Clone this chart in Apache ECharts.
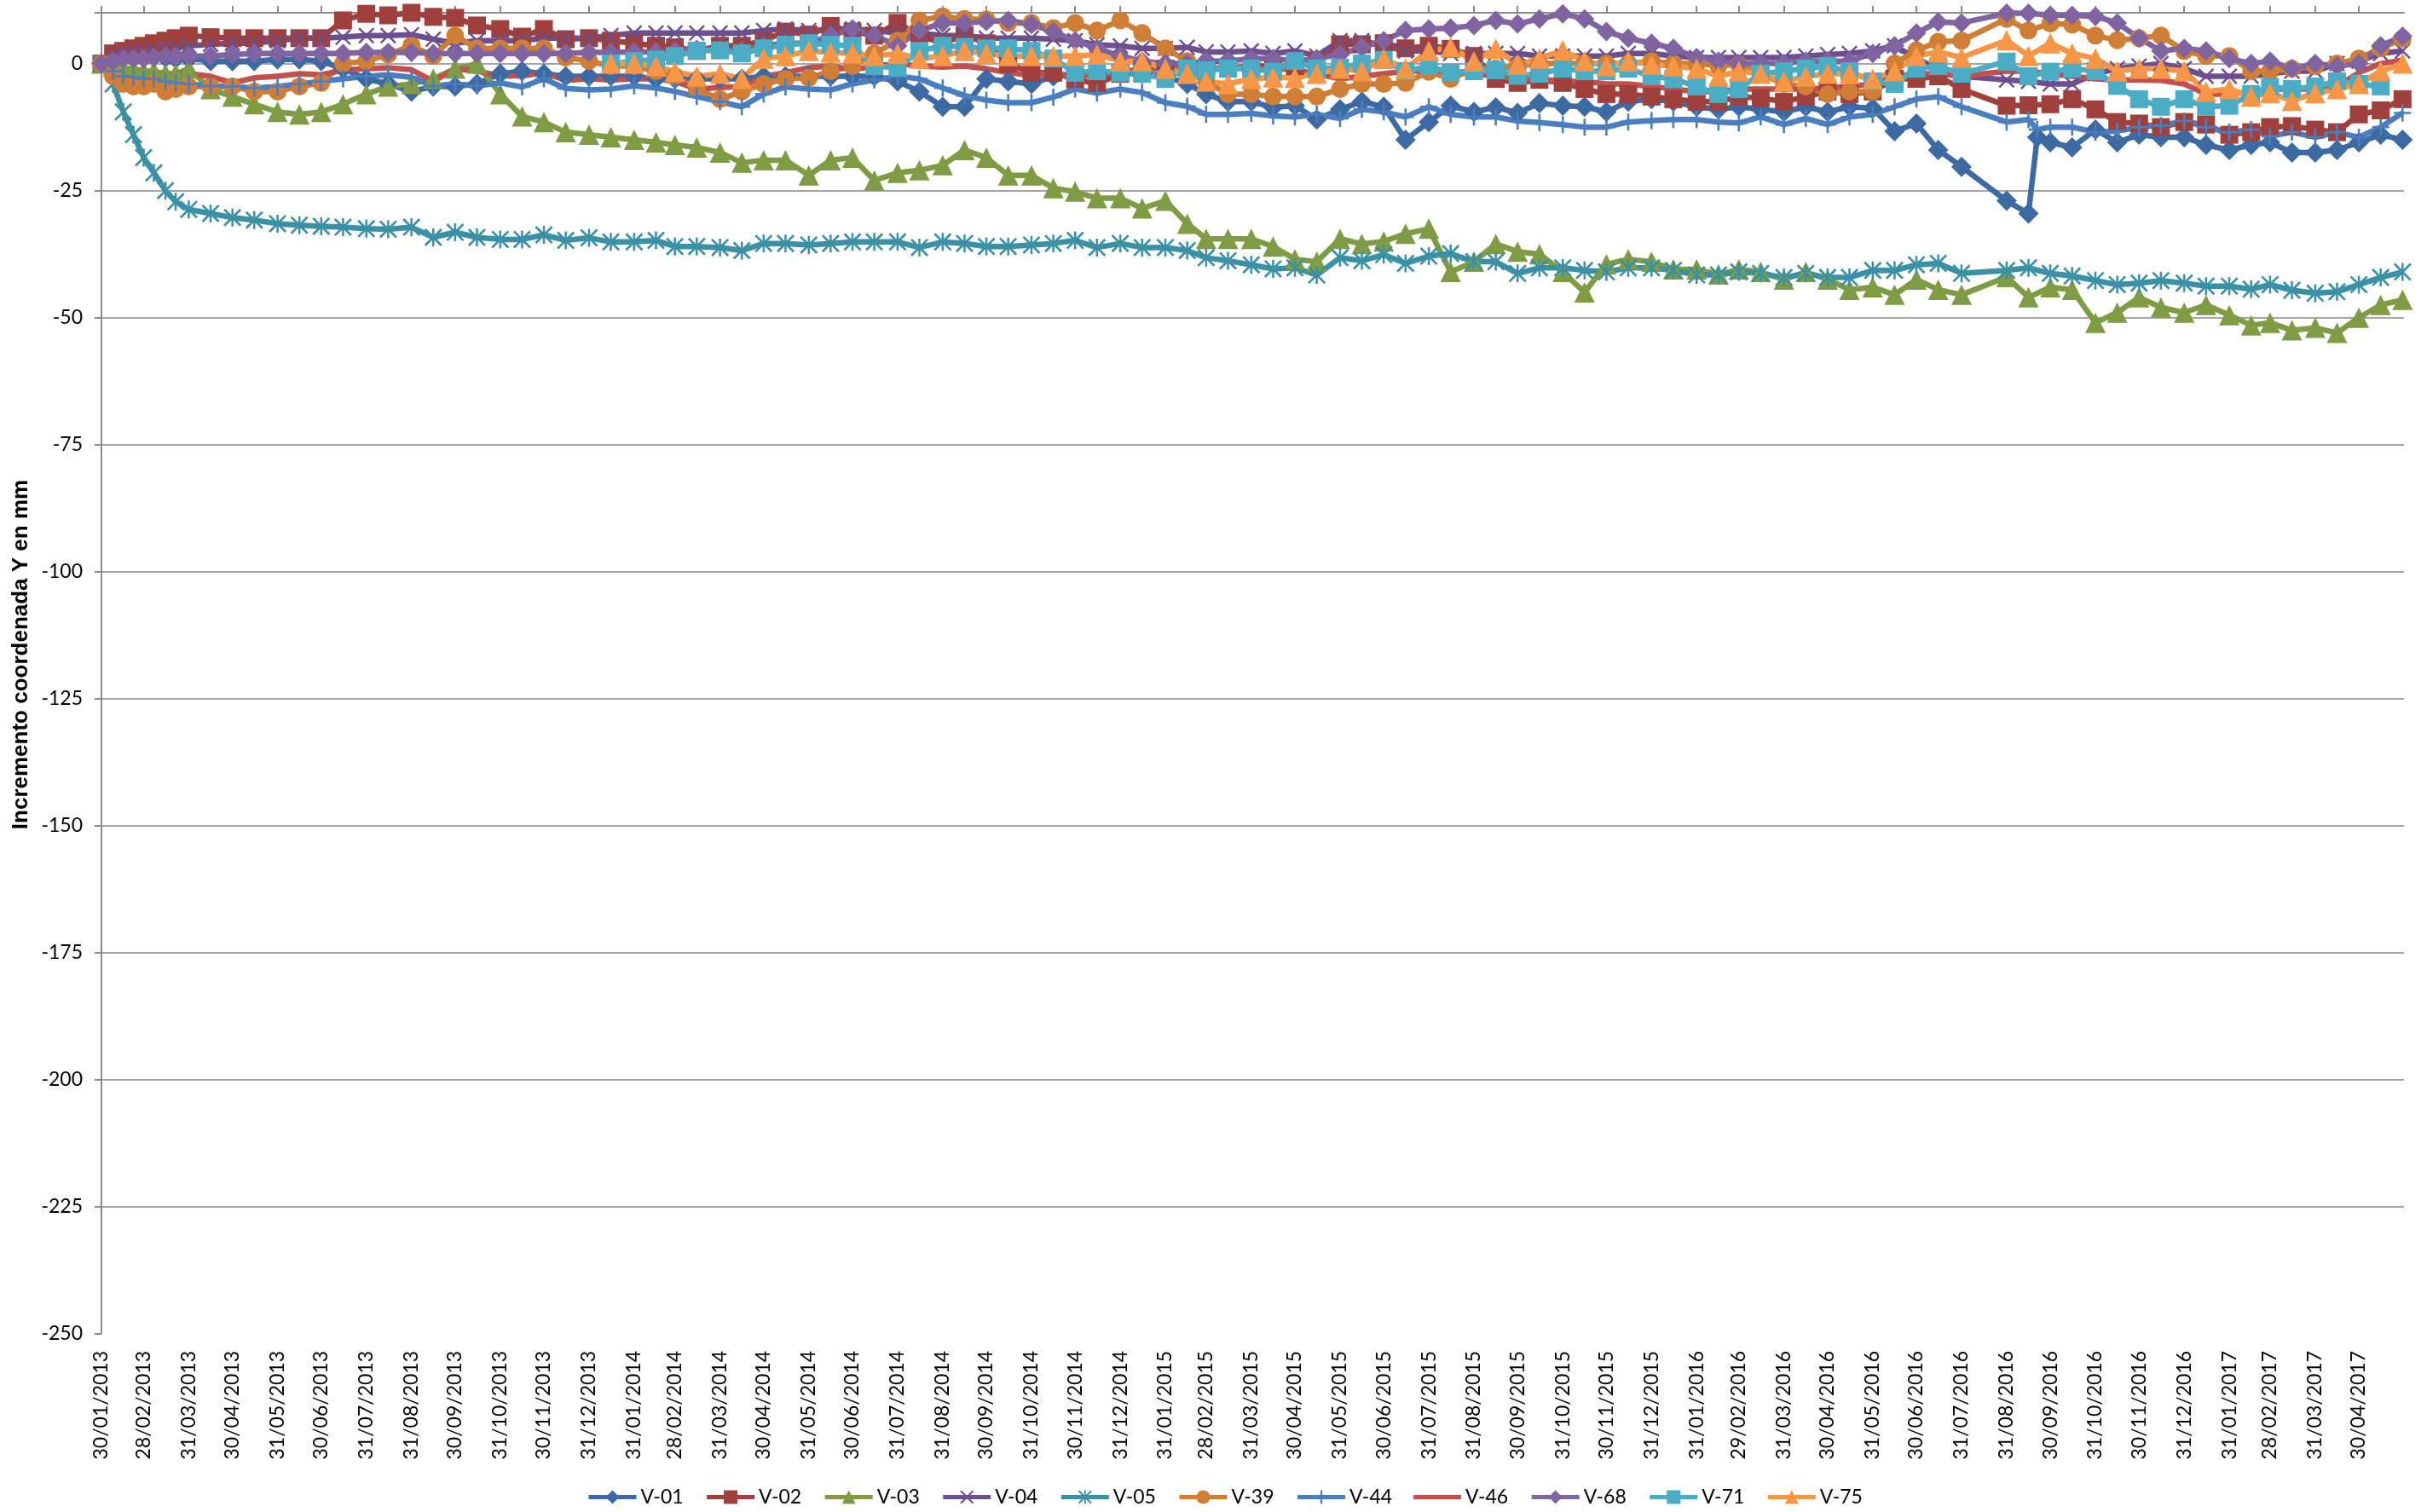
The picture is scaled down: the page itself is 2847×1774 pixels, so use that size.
<!DOCTYPE html>
<html><head><meta charset="utf-8">
<script src="https://cdn.jsdelivr.net/npm/echarts@6/dist/echarts.min.js"></script>
<style>html,body{margin:0;padding:0;background:#fff}#c{width:2847px;height:1774px}</style>
</head><body><div id="c"></div>
<script>
const dates = [
'2013-01-30','2013-02-07','2013-02-14','2013-02-21','2013-02-28','2013-03-07','2013-03-15','2013-03-22','2013-03-31',
'2013-04-15','2013-04-30','2013-05-15','2013-05-31','2013-06-15','2013-06-30','2013-07-15','2013-07-31','2013-08-15','2013-08-31','2013-09-15','2013-09-30','2013-10-15','2013-10-31','2013-11-15','2013-11-30','2013-12-15','2013-12-31',
'2014-01-15','2014-01-31','2014-02-15','2014-02-28','2014-03-15','2014-03-31','2014-04-15','2014-04-30','2014-05-15','2014-05-31','2014-06-15','2014-06-30','2014-07-15','2014-07-31','2014-08-15','2014-08-31','2014-09-15','2014-09-30','2014-10-15','2014-10-31','2014-11-15','2014-11-30','2014-12-15','2014-12-31',
'2015-01-15','2015-01-31','2015-02-15','2015-02-28','2015-03-15','2015-03-31','2015-04-15','2015-04-30','2015-05-15','2015-05-31','2015-06-15','2015-06-30','2015-07-15','2015-07-31','2015-08-15','2015-08-31','2015-09-15','2015-09-30','2015-10-15','2015-10-31','2015-11-15','2015-11-30','2015-12-15','2015-12-31',
'2016-01-15','2016-01-31','2016-02-15','2016-02-29','2016-03-15','2016-03-31','2016-04-15','2016-04-30','2016-05-15','2016-05-31','2016-06-15','2016-06-30','2016-07-15','2016-07-31','2016-08-15','2016-08-31','2016-09-15','2016-09-21','2016-09-30','2016-10-15','2016-10-31','2016-11-15','2016-11-30','2016-12-15','2016-12-31',
'2017-01-15','2017-01-31','2017-02-15','2017-02-28','2017-03-15','2017-03-31','2017-04-15','2017-04-30','2017-05-15','2017-05-30'];

const tickLabels = ['30/01/2013','28/02/2013','31/03/2013','30/04/2013','31/05/2013','30/06/2013','31/07/2013','31/08/2013','30/09/2013','31/10/2013','30/11/2013','31/12/2013',
'31/01/2014','28/02/2014','31/03/2014','30/04/2014','31/05/2014','30/06/2014','31/07/2014','31/08/2014','30/09/2014','31/10/2014','30/11/2014','31/12/2014',
'31/01/2015','28/02/2015','31/03/2015','30/04/2015','31/05/2015','30/06/2015','31/07/2015','31/08/2015','30/09/2015','31/10/2015','30/11/2015','31/12/2015',
'31/01/2016','29/02/2016','31/03/2016','30/04/2016','31/05/2016','30/06/2016','31/07/2016','31/08/2016','30/09/2016','31/10/2016','30/11/2016','31/12/2016',
'31/01/2017','28/02/2017','31/03/2017','30/04/2017'];

const seriesNames = ['V-01','V-02','V-03','V-04','V-05','V-39','V-44','V-46','V-68','V-71','V-75'];

const v01 = [0,1,1.5,1.5,1.5,1.5,1.2,1,1,
0.5,0.5,0.5,0.8,0.8,0.5,-1,-3,-4,-5.5,-4.5,-4.5,-4,-2,-1.5,-2,-2.5,-2.5,
-2.5,-2.5,-3,-3,-3,-3,-3,-2.5,-2.5,-2.5,-2.5,-2.5,-2.5,-3.5,-5.5,-8.5,-8.5,-3,-3.5,-4,-2.5,-2,-2,-2,
-2,-2.5,-4,-6,-7.5,-7.5,-8.6,-8.3,-11,-9,-7.5,-8.5,-15,-11.5,-8.3,-9.5,-8.6,-9.7,-7.8,-8.3,-8.5,-9.5,-7.5,-7,
-7.5,-8.5,-9,-8.5,-9,-9.5,-8.5,-9.5,-8.5,-8.8,-13.3,-11.8,-17,-20.3,null,-27,-29.5,-14.5,-15.5,-16.5,-13,-15.5,-14,-14.5,-14.5,
-16,-17,-16,-15.5,-17.5,-17.5,-17,-15.5,-14,-15];

const v02 = [0,2,2.5,3,3.5,4,4.5,5,5.5,
5.2,5,5,5,5,5,8.5,9.8,9.5,10,9.2,9,7.5,6.8,5.3,6.8,4.8,5,
4.5,4,3.5,3.2,2.5,3.5,3.5,4.5,6.3,5.7,7.4,6.3,5.5,8,5.5,4,5.6,4,0,-1.8,-1.8,-3,-4,-2,
-1,-1,-1,-1,-1,-0.5,-0.5,-0.5,0.5,3.8,3.8,4,3,3.5,2.9,1.5,-3,-3.8,-3.2,-3.8,-5,-6,-6,-6.5,
-7,-7.5,-7.5,-6.5,-6.8,-7.5,-6.5,-5.5,-6,-5.5,-3,-3,-2.5,-5,null,-8.3,-8.2,null,-8,-7,-9,-11.5,-11.8,-12.5,-11.5,
-12,-14,-13.5,-12.5,-12.3,-13,-13.5,-10,-9.2,-7];

const v03 = [0,-0.5,-1,-1,-1.5,-1.5,-2,-2,-1,
-5,-6.5,-8,-9.5,-10,-9.5,-8,-6,-4.5,-4,-3,-1,0,-6,-10.4,-11.5,-13.5,-14,
-14.5,-15,-15.5,-16,-16.5,-17.5,-19.5,-19,-19,-22,-19,-18.5,-23,-21.5,-21,-20,-17,-18.5,-22,-22,-24.5,-25.2,-26.5,-26.5,
-28.5,-27,-31.5,-34.5,-34.5,-34.5,-36,-38.5,-39,-34.5,-35.5,-35,-33.5,-32.5,-41,-39,-35.5,-37,-37.5,-41,-45,-39.5,-38.5,-39,
-40.5,-40.5,-41.5,-40.5,-41,-42.5,-41,-42.5,-44.5,-44,-45.5,-42.5,-44.5,-45.5,null,-42,-46,null,-44,-44.5,-51,-49,-46,-48,-49,
-47.5,-49.5,-51.5,-51,-52.5,-52,-53,-50,-47.5,-46.5];

const v04 = [0,1.5,2,2,2.3,2.5,3,3,3.5,
3.8,4,4,4.5,5,5,5.2,5.5,5.5,5.7,4.8,4,4.5,4.5,4.5,5,5,5,
5.5,6,6,6,6,6,6,6.5,6.8,6.5,6.5,6.8,6.5,6,6,5.5,5.5,5,5,5,4.8,4.5,3.7,3.5,
3,3,3.2,2.3,2.3,2.5,2,2.5,1.5,4.5,4.5,3.5,2.5,2.5,2,2,2,2,1.5,1.5,1.5,1.5,2,2,
1.5,1.2,1.2,1.2,1.2,1.2,1.5,1.8,2,2.5,3.5,1,-1,-2.5,null,-3.2,-3.5,null,-4,-4,-2,-1,-0.5,0,-1,
-2.5,-2.5,-2.5,-2,-1.5,-1.5,0,0.5,2,2.5];

const v05 = [0,-4,-9.5,-14,-18.5,-21.5,-25,-27.2,-28.7,
-29.5,-30.3,-30.8,-31.5,-31.8,-32,-32.2,-32.5,-32.6,-32.2,-34.2,-33.2,-34.2,-34.6,-34.6,-33.7,-34.8,-34.3,
-35.1,-35.1,-34.8,-36,-36,-36.2,-36.8,-35.4,-35.4,-35.7,-35.4,-35.1,-35.1,-35.1,-36.2,-35.1,-35.4,-36,-36,-35.7,-35.4,-34.8,-36.2,-35.4,
-36.2,-36.2,-36.8,-38.2,-38.8,-39.6,-40.4,-40.2,-41.6,-38.2,-38.8,-37.6,-39.3,-37.9,-37.4,-39,-39,-41.3,-40.2,-40.2,-40.7,-41,-40.2,-40.2,
-40.7,-41.6,-41.6,-41,-41.3,-42.1,-41.3,-42.1,-42.1,-40.7,-40.7,-39.6,-39.3,-41.3,null,-40.7,-40.2,null,-41.3,-41.8,-42.7,-43.5,-43.2,-42.7,-43.2,
-43.8,-43.8,-44.4,-43.5,-44.6,-45.2,-44.9,-43.5,-42.1,-41];

const v39 = [0,-2.5,-4,-4.5,-4.5,-4,-5.5,-5,-4.5,
-4.5,-4.5,-5.5,-5.5,-4.5,-3.8,0,0.5,1.8,3.5,1.5,5.5,3,3,3,3,1.2,0.5,
-0.5,-0.5,-1.5,-2.5,-5,-7,-5.5,-4,-3,-2.8,-1.5,-0.5,2,4.5,8.5,9.3,8.8,8.7,8,8,7,8,6.5,8.5,
6,3,0.5,-3.5,-6,-6,-6.5,-6.5,-6.5,-5,-4,-4,-3.8,-1.6,-3,-1,-1,-0.5,0,0,0,0,0,0.5,
0,0,-0.4,-0.2,-2,-4,-4.5,-6,-5.5,-5.5,0,2.6,4.3,4.5,null,8.8,6.5,null,7.9,7.7,5.5,4.6,5,5.5,2.5,
1.5,1.5,-1.5,-1.5,-1,-0.5,0,1,3,4.9];

const v44 = [0,-1.5,-2.5,-2.7,-3,-3,-3.5,-3.8,-4,
-4.4,-4.5,-4.8,-4.5,-4,-3.5,-3,-2.5,-2.2,-2.7,-4.4,-4,-4.4,-3.8,-4.6,-3,-4.9,-5.2,
-5,-4.4,-4.8,-5.5,-6.5,-7.5,-8.5,-6,-4.6,-5,-5.2,-4,-3.2,-2.5,-3,-4.8,-6.3,-7.2,-7.7,-7.7,-6.6,-5,-5.8,-5,
-5.7,-7.7,-8.4,-10,-10,-9.8,-10.3,-10.5,-10,-10.8,-9,-9.5,-10.5,-8.5,-10,-10.5,-10.5,-11.3,-11.6,-12,-12.5,-12.5,-11.5,-11.2,
-11,-11,-11.5,-11.7,-10.5,-12,-10.8,-12,-10.5,-10,-8.5,-7,-6.5,-8.5,null,-11.5,-11,-13,-12.5,-12.5,-13.5,-13.3,-12.5,-12.2,-11.3,
-12.5,-13.5,-13,-14.3,-13.5,-14.5,-13.5,-14.5,-12.5,-9.7];

const v46 = [0,-1.5,-2,-2.2,-2.4,-2.4,-2.2,-2,-2,
-2.5,-3.8,-2.8,-2.5,-2,-2.2,-1.3,-1,-0.8,-1.2,-3.5,-1,-1.5,-2.4,-2.4,-1.8,-3.3,-3,
-3.2,-3,-3,-3.5,-5,-4.7,-4.5,-2.5,-1.8,-0.8,-0.5,-1.2,-0.5,0,-0.5,-0.7,-0.5,-1,-1.8,-2.3,-2,-2.4,-2.2,-1.5,
-1.2,-1,-1,-1,-0.8,-0.8,-1,-1.2,-2,-3,-2.5,-2,-1.5,-1.5,-1.5,-2,-2.5,-3,-3,-3.5,-3.5,-4,-4,-4.5,
-5,-5.5,-5.5,-5,-5,-5,-5,-4.8,-4.5,-4,-2.5,-2,-2,-2.5,null,-1.5,-1.5,null,-2,-2.5,-3,-3.2,-3.2,-3.3,-4,
-6,-6,-5.5,-5,-5,-5,-4.5,-1.8,0,0.7];

const v68 = [0,0.5,1,1,1,1.2,1.5,1.5,1.5,
1.5,1.8,2,2,2,2,2,2.2,2.2,2.2,2,2,2,2,2,2,2,2.2,
2.2,2.3,2.3,2.5,2.8,2.8,2.5,3.5,4,4,5.5,6.8,5.5,3.5,6.5,8,8,8.3,8.5,7.7,6.3,4.5,3,1.5,
0.5,0,0,0.5,0.5,1,1,0.5,1,1.8,3.2,4.5,6.5,6.8,7,7.5,8.5,7.8,8.8,9.8,8.8,6.3,5,4,
3,1.2,0.5,0,0,0,0.5,0.5,0.5,2,3.5,6,8.2,8,null,9.9,9.9,null,9.5,9.5,9.3,8,5,2.5,3,
2.5,1,0,0.5,-1,0,-0.5,0,3.5,5.4];

const v71 = [null,null,null,null,null,null,null,null,null,
null,null,null,null,null,null,null,null,null,null,null,null,null,null,null,null,null,null,
0,0.5,0.8,1.5,2.5,2.6,2,3,3.7,4,3.7,3.5,-0.5,-0.8,2.5,3.5,3.3,3,3,2.5,1,-1.8,-1.5,-1.8,
-2,-3,-1,-1.3,-1,-1,-1.6,0.5,-1,-0.8,0,0.7,-1.5,-0.5,-1.8,-1.5,-1.3,-2.4,-2,-1,-1.5,-1.5,-1,-2.5,
-3,-4.5,-6,-5,-2,-1.5,-1,-0.5,-1.5,-3.5,-4,-1,-0.5,-2,null,0.4,-2.5,null,-1.6,-1,-1.5,-4.4,-7,-8.5,-7,
-8.5,-8.3,-6,-4.6,-5,-4.5,-3.5,-4,-4.5,null];

const v75 = [null,null,null,null,null,null,null,null,null,
null,null,null,null,null,null,null,null,null,null,null,null,null,null,null,null,null,null,
0,0,-0.5,-1.6,-2.5,-2,-3,1,1.5,2.5,2.2,2,1.5,2,1,1.5,2.5,2,1.5,1.5,1.5,1.5,1.8,0.5,
0.5,-1,-2,-3.5,-4,-3,-2.7,-2.8,-2,-1,-1.5,1,-1,2.5,3.2,0.5,2.9,-0.2,1,2.6,0.5,-0.5,0.5,-0.2,
-0.5,-1,-2.5,-1.5,-2,-3.5,-2.5,-2,-2,-3,-1.5,1.5,2.3,1.2,null,4.6,1.5,null,4,2,1,-1.5,-1,-1,-1.5,
-5.5,-5,-6.5,-5.8,-7.3,-5.8,-5,-4,-1.5,0];

const values = [v01,v02,v03,v04,v05,v39,v44,v46,v68,v71,v75];
const colors = ['#3D6AA3','#A0403D','#7F9B43','#6B4F8F','#3A91A6','#D07D35','#4A7EC1','#C4504D','#8064A2','#4BACC6','#F79646'];

const PLUS = 'path://M4.35,0L5.65,0L5.65,4.35L10,4.35L10,5.65L5.65,5.65L5.65,10L4.35,10L4.35,5.65L0,5.65L0,4.35L4.35,4.35Z';
const XMARK = 'path://M0,0.9L0.9,0L10,9.1L9.1,10ZM9.1,0L10,0.9L0.9,10L0,9.1Z';
const STAR = 'path://M0,0.9L0.9,0L10,9.1L9.1,10ZM9.1,0L10,0.9L0.9,10L0,9.1ZM4.4,0L5.6,0L5.6,10L4.4,10Z';
const LINE_ICON = 'path://M0,0L56,0L56,5L0,5Z';
const symbols = ['diamond','rect','triangle',XMARK,STAR,'circle',PLUS,'none','diamond','rect','triangle'];
const sizes = [24,21,24,19,21,21,20,0,23,21,24];
const LINE_W = 6.5;

function toTime(s){ const p=s.split('/'); return new Date(+p[2], +p[1]-1, +p[0]).getTime(); }
function parseIso(s){ const p=s.split('-'); return new Date(+p[0], +p[1]-1, +p[2]).getTime(); }
const tickVals = tickLabels.map(toTime);
const minT = new Date(2013,0,30).getTime();
const maxT = new Date(2017,4,31).getTime();
function fmtDate(v){ const i = tickVals.indexOf(v); if (i >= 0) return tickLabels[i];
  const d=new Date(v); const p=n=>n<10?'0'+n:''+n; return p(d.getDate())+'/'+p(d.getMonth()+1)+'/'+d.getFullYear(); }

const FONT = 'Lato';
const series = seriesNames.map((name,i)=>({
  name, type:'line', xAxisIndex:0, yAxisIndex:0,
  data: dates.map((d,j)=>[parseIso(d), values[i][j] === undefined ? null : values[i][j]]),
  connectNulls:true,
  symbol: symbols[i], symbolSize: sizes[i], showSymbol: symbols[i] !== 'none',
  lineStyle:{color:colors[i], width:LINE_W, opacity:1},
  itemStyle:{color:colors[i], borderWidth:0},
  emphasis:{disabled:true},
  animation:false
}));

const legendData = seriesNames.map((n,i)=> symbols[i]==='none' ? {name:n, icon:LINE_ICON} : {name:n});

const chart = echarts.init(document.getElementById('c'), null, {renderer:'canvas'});
chart.setOption({
  animation:false,
  backgroundColor:'#ffffff',
  color: colors,
  grid:{left:119, right:27, top:15, bottom:209, containLabel:false},
  xAxis:[
    {type:'value', position:'top', min:minT, max:maxT, scale:true,
     axisLine:{show:true, onZero:false, lineStyle:{color:'#8c8c8c', width:2}},
     axisTick:{show:true, customValues:tickVals, length:8, lineStyle:{color:'#8c8c8c', width:2}},
     axisLabel:{show:false}, splitLine:{show:false}},
    {type:'value', position:'bottom', min:minT, max:maxT, scale:true,
     axisLine:{show:false, onZero:false}, axisTick:{show:false},
     axisLabel:{show:true, customValues:tickVals, rotate:90, fontFamily:FONT, fontSize:23, color:'#000', margin:20, formatter:fmtDate},
     splitLine:{show:false}}
  ],
  yAxis:{type:'value', min:-250, max:10, interval:25,
    axisLine:{show:true, lineStyle:{color:'#8c8c8c', width:2}},
    axisTick:{show:true, length:8, lineStyle:{color:'#8c8c8c', width:2}},
    axisLabel:{fontFamily:FONT, fontSize:23, color:'#000', margin:22, formatter:(v)=> v>0 ? '' : String(v)},
    splitLine:{show:true, showMinLine:false, showMaxLine:false, lineStyle:{color:'#a6a6a6', width:2}},
    name:'Incremento coordenada Y en mm', nameLocation:'middle', nameGap:80,
    nameTextStyle:{fontFamily:'Liberation Sans', fontWeight:'bold', fontSize:26, color:'#000', padding:[0,0,0,44]}},
  legend:{show:true, data:legendData, left:683, top:1740, orient:'horizontal',
    itemWidth:56, itemHeight:20, itemGap:25, symbolKeepAspect:true,
    lineStyle:{width:5},
    textStyle:{fontFamily:FONT, fontSize:23, color:'#000'}},
  series
});
</script></body></html>
